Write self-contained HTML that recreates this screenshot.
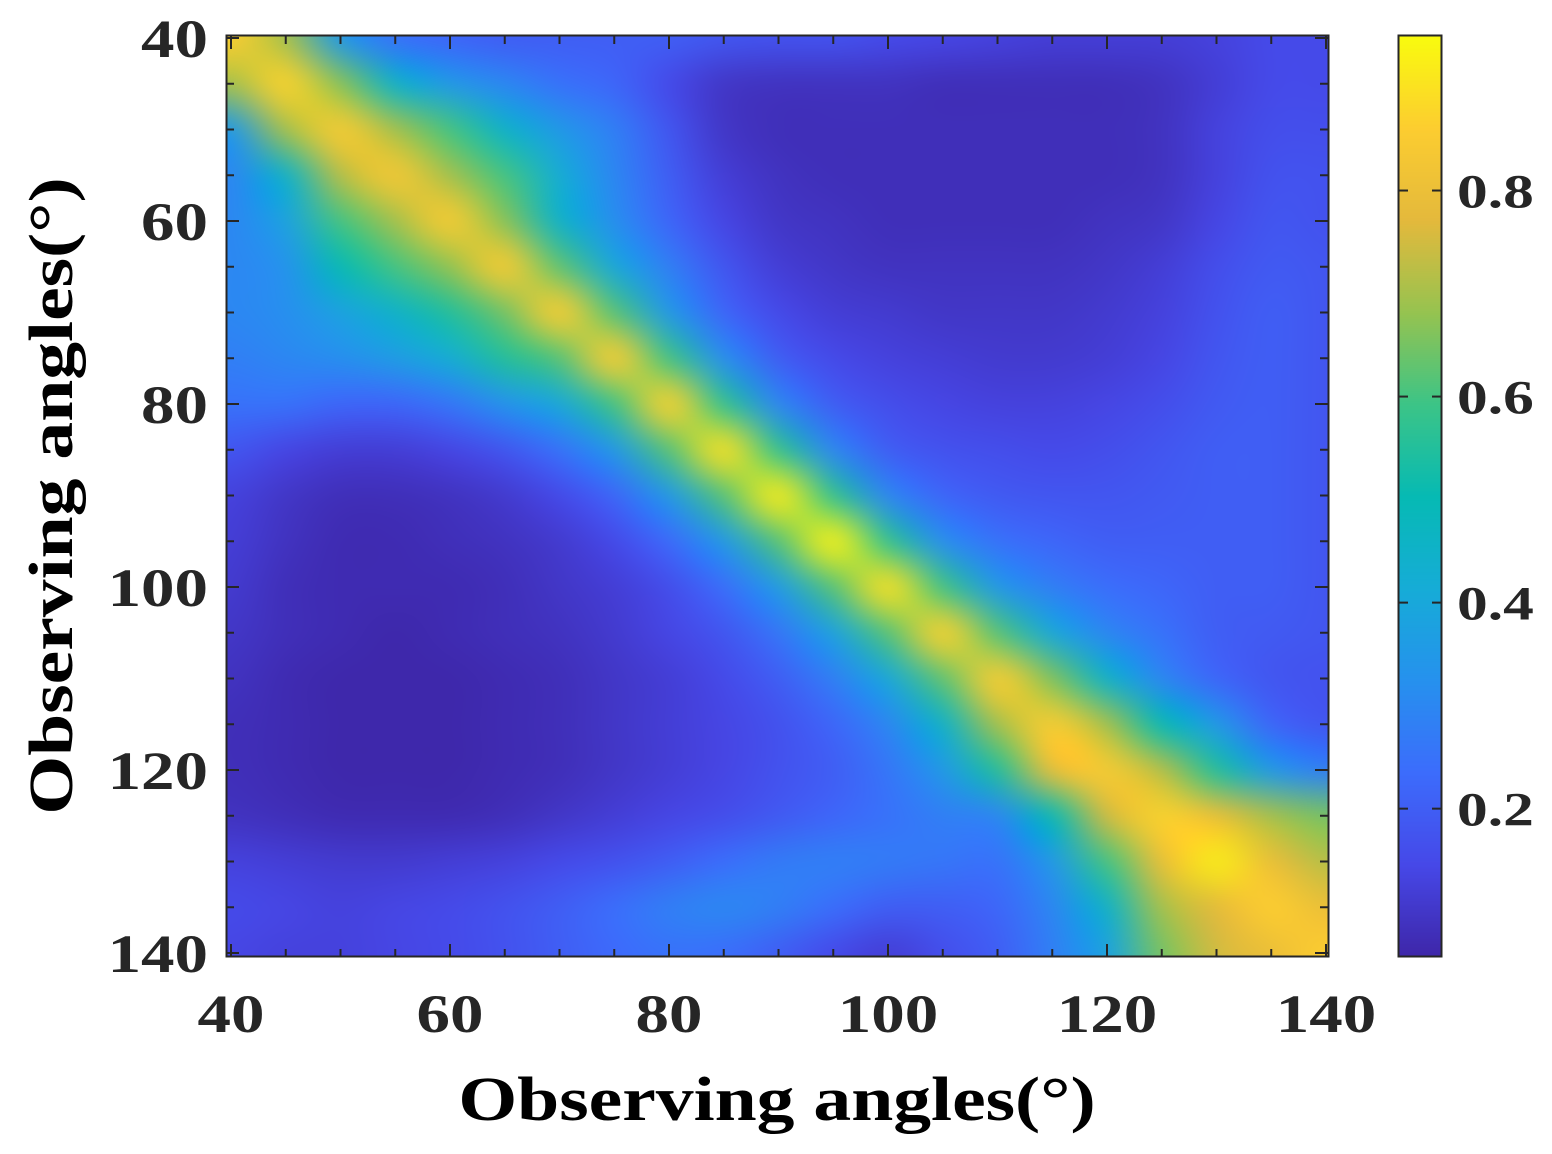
<!DOCTYPE html>
<html><head><meta charset="utf-8"><style>
body{margin:0;background:#fff;width:1552px;height:1154px;overflow:hidden;position:relative;font-family:"Liberation Serif",serif;font-weight:bold;color:#262626}
canvas{position:absolute}
</style></head><body>
<canvas id="hm" style="left:226px;top:36px" width="1102" height="921"></canvas>
<canvas id="cb" style="left:1398px;top:36px" width="44" height="921"></canvas>
<svg id="ov" width="1552" height="1154" style="position:absolute;left:0;top:0"></svg>
<script>
const angles=[40,45,50,55,60,65,70,75,80,85,90,95,100,105,110,115,120,125,130,135,140];
const xTicks=[40,60,80,100,120,140];
const yTicks=[40,60,80,100,120,140];
const cbTicks=[0.2,0.4,0.6,0.8];
const vmin=0.056, vmax=0.95;
const r40=[0.86,0.7,0.35,0.25,0.22,0.2,0.2,0.2,0.2,0.18,0.17,0.17,0.15,0.14,0.13,0.12,0.12,0.12,0.13,0.15,0.15];
const r45=[0.7,0.87,0.67,0.45,0.35,0.3,0.25,0.22,0.15,0.1,0.09,0.09,0.09,0.08,0.08,0.08,0.08,0.09,0.12,0.15,0.15];
const r50=[0.35,0.7,0.85,0.7,0.6,0.45,0.35,0.28,0.18,0.1,0.08,0.08,0.08,0.08,0.08,0.08,0.08,0.09,0.13,0.16,0.16];
const r55=[0.3,0.45,0.72,0.84,0.7,0.6,0.42,0.3,0.2,0.12,0.09,0.08,0.08,0.08,0.08,0.08,0.08,0.09,0.13,0.17,0.17];
const r60=[0.3,0.38,0.6,0.7,0.85,0.67,0.45,0.32,0.22,0.14,0.1,0.09,0.08,0.08,0.08,0.08,0.09,0.1,0.14,0.18,0.17];
const r65=[0.3,0.33,0.5,0.6,0.68,0.85,0.63,0.4,0.28,0.18,0.12,0.1,0.09,0.09,0.09,0.09,0.1,0.12,0.16,0.19,0.18];
const r70=[0.3,0.32,0.38,0.45,0.55,0.65,0.86,0.62,0.35,0.22,0.15,0.12,0.11,0.1,0.1,0.1,0.11,0.13,0.17,0.2,0.18];
const r75=[0.28,0.3,0.32,0.36,0.42,0.55,0.62,0.86,0.6,0.32,0.2,0.15,0.13,0.12,0.11,0.11,0.12,0.14,0.18,0.2,0.18];
const r80=[0.25,0.25,0.22,0.22,0.26,0.33,0.4,0.6,0.87,0.58,0.3,0.2,0.16,0.14,0.13,0.13,0.14,0.16,0.19,0.2,0.18];
const r85=[0.18,0.14,0.12,0.12,0.14,0.18,0.25,0.35,0.62,0.9,0.58,0.3,0.2,0.17,0.16,0.15,0.16,0.18,0.2,0.2,0.18];
const r90=[0.13,0.1,0.08,0.08,0.09,0.11,0.15,0.22,0.35,0.62,0.92,0.58,0.3,0.22,0.19,0.18,0.18,0.19,0.2,0.2,0.18];
const r95=[0.12,0.09,0.07,0.07,0.08,0.09,0.11,0.15,0.23,0.35,0.62,0.93,0.58,0.32,0.25,0.22,0.2,0.2,0.2,0.2,0.18];
const r100=[0.11,0.08,0.07,0.07,0.07,0.08,0.1,0.12,0.16,0.24,0.36,0.62,0.9,0.6,0.35,0.28,0.24,0.22,0.2,0.2,0.18];
const r105=[0.1,0.08,0.07,0.06,0.07,0.08,0.09,0.11,0.14,0.18,0.26,0.38,0.62,0.87,0.62,0.4,0.3,0.25,0.2,0.19,0.18];
const r110=[0.09,0.07,0.06,0.06,0.06,0.07,0.08,0.1,0.12,0.15,0.2,0.28,0.4,0.63,0.86,0.66,0.45,0.3,0.22,0.18,0.17];
const r115=[0.08,0.07,0.06,0.06,0.06,0.07,0.08,0.1,0.12,0.14,0.17,0.22,0.3,0.45,0.7,0.86,0.7,0.5,0.35,0.22,0.18];
const r120=[0.08,0.07,0.06,0.06,0.06,0.07,0.08,0.1,0.12,0.14,0.17,0.2,0.26,0.35,0.55,0.8,0.85,0.72,0.55,0.35,0.28];
const r125=[0.09,0.08,0.07,0.07,0.07,0.08,0.1,0.12,0.14,0.16,0.19,0.22,0.25,0.28,0.3,0.5,0.75,0.87,0.8,0.7,0.65];
const r130=[0.13,0.12,0.11,0.11,0.12,0.13,0.15,0.17,0.2,0.24,0.27,0.28,0.27,0.26,0.25,0.35,0.6,0.8,0.92,0.8,0.72];
const r135=[0.15,0.14,0.13,0.14,0.15,0.17,0.2,0.24,0.28,0.3,0.28,0.24,0.2,0.2,0.22,0.3,0.45,0.7,0.78,0.86,0.8];
const r140=[0.14,0.13,0.13,0.14,0.15,0.17,0.2,0.23,0.25,0.24,0.2,0.15,0.12,0.16,0.2,0.28,0.38,0.65,0.75,0.8,0.86];
const grid=[r40,r45,r50,r55,r60,r65,r70,r75,r80,r85,r90,r95,r100,r105,r110,r115,r120,r125,r130,r135,r140];

const stops=[[62,38,168],[70,72,232],[60,108,252],[38,145,238],[22,172,215],[6,186,180],[60,196,135],[150,195,80],[228,185,60],[252,205,48],[249,251,14]];
function cmap(v){let t=(v-vmin)/(vmax-vmin);t=Math.max(0,Math.min(1,t))*(stops.length-1);
 const i=Math.min(stops.length-2,Math.floor(t)),f=t-i;return stops[i].map((c,k)=>Math.round(c+(stops[i+1][k]-c)*f));}
const X0=231,X1=1326,Y0=38,Y1=953;
const xs=a=>X0+(a-40)/100*(X1-X0);
const ys=a=>Y0+(a-40)/100*(Y1-Y0);
const cbY=v=>36+(vmax-v)/(vmax-vmin)*921;

const n=angles.length;
const sm=document.createElement('canvas');sm.width=n;sm.height=n;
const sctx=sm.getContext('2d');const img=sctx.createImageData(n,n);
grid.forEach((row,i)=>row.forEach((v,j)=>{const c=cmap(v),p=(i*n+j)*4;img.data[p]=c[0];img.data[p+1]=c[1];img.data[p+2]=c[2];img.data[p+3]=255;}));
sctx.putImageData(img,0,0);
const hm=document.getElementById('hm').getContext('2d');
hm.imageSmoothingEnabled=true;hm.imageSmoothingQuality='high';
const step=(xs(45)-xs(40));
hm.drawImage(sm,0,0,n,n,xs(40)-226-step/2,ys(40)-36-(ys(45)-ys(40))/2,step*n,(ys(45)-ys(40))*n);

const cb=document.getElementById('cb').getContext('2d');
for(let y=0;y<921;y++){const v=vmax-(y/921)*(vmax-vmin);const c=cmap(v);cb.fillStyle=`rgb(${c})`;cb.fillRect(0,y,44,1);}

const svg=document.getElementById('ov');const NS='http://www.w3.org/2000/svg';
function el(tag,at){const e=document.createElementNS(NS,tag);for(const k in at)e.setAttribute(k,at[k]);svg.appendChild(e);return e;}
function txt(s,x,y,size,anchor,sx,rot,fill){const e=el('text',{x:0,y:0,'text-anchor':anchor,'font-size':size,'font-family':'Liberation Serif,serif','font-weight':'bold',fill:fill||'#262626',transform:`translate(${x},${y}) rotate(${rot||0}) scale(${sx},1)`});e.textContent=s;return e;}
let e=el('rect',{x:226.5,y:35.5,width:1102,height:921,fill:'none',stroke:'#262626','stroke-width':2});


e=el('rect',{x:1398.5,y:35.5,width:43,height:921,fill:'none',stroke:'#262626','stroke-width':2});


for(let a=40;a<=140;a+=5){const L=(a%20===0)?13:8;
 el('line',{x1:xs(a),x2:xs(a),y1:957,y2:957-L,stroke:'#262626','stroke-width':2});
 el('line',{x1:xs(a),x2:xs(a),y1:36,y2:36+L,stroke:'#262626','stroke-width':2});
 el('line',{x1:226,x2:226+L,y1:ys(a),y2:ys(a),stroke:'#262626','stroke-width':2});
 el('line',{x1:1328,x2:1328-L,y1:ys(a),y2:ys(a),stroke:'#262626','stroke-width':2});}
xTicks.forEach(a=>{const t=txt(String(a),xs(a),1032,54,'middle',1.24);
 
 });
yTicks.forEach(a=>{const t=txt(String(a),208,ys(a)+19,54,'end',1.24);
 
 });
cbTicks.forEach(v=>{const y=cbY(v);
 el('line',{x1:1398,x2:1408,y1:y,y2:y,stroke:'#262626','stroke-width':2});
 el('line',{x1:1442,x2:1432,y1:y,y2:y,stroke:'#262626','stroke-width':2});
 const t=txt(v.toFixed(1),1457,y+17,48,'start',1.28);
 
 });
let t=txt('Observing angles(°)',777,1120,62,'middle',1.22,0,'#000');


t=txt('Observing angles(°)',72,496,62,'middle',1.22,-90,'#000');


</script>
</body></html>
